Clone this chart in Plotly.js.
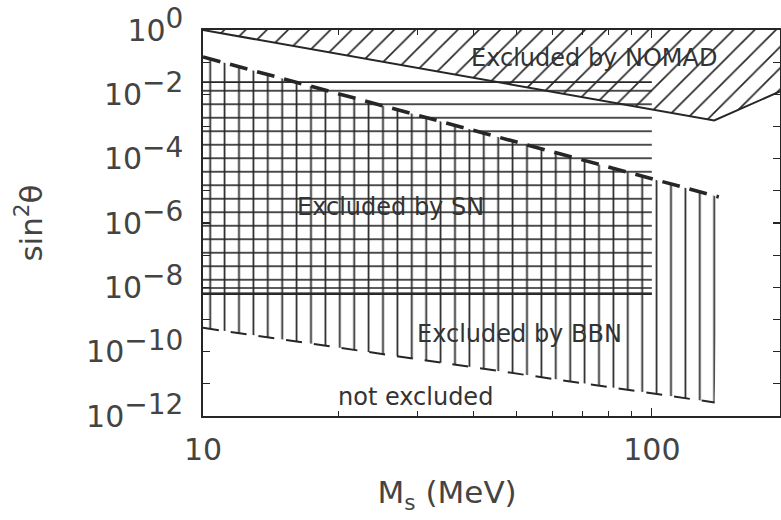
<!DOCTYPE html>
<html><head><meta charset="utf-8">
<script src="https://cdn.plot.ly/plotly-3.0.1.min.js"></script>
<style>html,body{margin:0;padding:0;background:#fff}#chart{width:781px;height:520px}</style>
</head><body><div id="chart"></div>
<script>
// Region boundaries (M_s in MeV, sin^2 theta)
const nomadLowerM = [10, 137.7, 193];
const nomadLowerS = [1, 1.55e-3, 1.23e-2];
const snUpperM = [10, 141];
const snUpperS = [1.45e-1, 6.46e-6];
const bbnLowerM = [10, 138];
const bbnLowerS = [5.5e-10, 2.63e-12];
const snBoxM = [10, 100];
const snBoxBottom = 6.17e-9;
const snBoxBottomInner = 9.5e-9;
const snBoxTop = 2.4e-2;
const xMax = 193;
const xTickVals = [10, 100];
const xTickText = ['10', '100'];
const xMinorVals = [20, 30, 40, 50, 60, 70, 80, 90];
const yMajorExponents = [0, -2, -4, -6, -8, -10, -12];
const yMinorExponents = [-1, -3, -5, -7, -9, -11];

const yTickVals = yMajorExponents.map(e => Math.pow(10, e));
const yTickText = yMajorExponents.map(e =>
  '10<sup><span style="font-size:28px">' + (e === 0 ? '0' : '\u2212' + (-e)) + '</span></sup>');
const yMinorVals = yMinorExponents.map(e => Math.pow(10, e));

const ink = '#262626';
const noLine = {width: 0, color: 'rgba(0,0,0,0)'};

const traces = [
  // BBN excluded: vertical hatching between SN upper line and BBN lower line
  {
    x: snUpperM.concat(bbnLowerM.slice().reverse()),
    y: snUpperS.concat(bbnLowerS.slice().reverse()),
    mode: 'lines', fill: 'toself', line: noLine, fillcolor: 'rgba(0,0,0,0)',
    fillpattern: {shape: '|', size: 14.4, solidity: 0.12, fgcolor: ink, bgcolor: 'rgba(0,0,0,0)'},
    hoverinfo: 'skip'
  },
  // SN excluded: horizontal hatching
  {
    x: [snBoxM[0], snBoxM[1], snBoxM[1], snBoxM[0]],
    y: [snBoxBottom, snBoxBottom, snBoxTop, snBoxTop],
    mode: 'lines', fill: 'toself', line: noLine, fillcolor: 'rgba(0,0,0,0)',
    fillpattern: {shape: '-', size: 13.5, solidity: 0.12, fgcolor: ink, bgcolor: 'rgba(0,0,0,0)'},
    hoverinfo: 'skip'
  },
  // NOMAD excluded: diagonal hatching
  {
    x: nomadLowerM.concat([xMax, nomadLowerM[0]]),
    y: nomadLowerS.concat([1, 1]),
    mode: 'lines', fill: 'toself', line: noLine, fillcolor: 'rgba(0,0,0,0)',
    fillpattern: {shape: '/', size: 15, solidity: 0.11, fgcolor: ink, bgcolor: 'rgba(0,0,0,0)'},
    hoverinfo: 'skip'
  },
  // boundaries
  {x: nomadLowerM, y: nomadLowerS, mode: 'lines', line: {color: ink, width: 2}, hoverinfo: 'skip'},
  {x: snUpperM, y: snUpperS, mode: 'lines', line: {color: ink, width: 3.6, dash: '18px,10px'}, hoverinfo: 'skip'},
  {x: bbnLowerM, y: bbnLowerS, mode: 'lines', line: {color: ink, width: 2, dash: '16px,12px'}, hoverinfo: 'skip'},
  {x: snBoxM, y: [snBoxBottom, snBoxBottom], mode: 'lines', line: {color: ink, width: 1.7}, hoverinfo: 'skip'},
  {x: snBoxM, y: [snBoxBottomInner, snBoxBottomInner], mode: 'lines', line: {color: ink, width: 1.5}, hoverinfo: 'skip'},
  {x: snBoxM, y: [snBoxTop, snBoxTop], mode: 'lines', line: {color: ink, width: 1.6}, hoverinfo: 'skip'}
];

const labelFont = {family: 'DejaVu Sans, sans-serif', size: 24, color: '#333'};

const layout = {
  width: 781, height: 520,
  margin: {l: 203, r: 1, t: 30, b: 104},
  paper_bgcolor: '#fff', plot_bgcolor: '#fff',
  showlegend: false,
  font: {family: 'DejaVu Sans, sans-serif', color: '#444'},
  xaxis: {
    type: 'log', range: [1, Math.log10(xMax)],
    tickmode: 'array', tickvals: xTickVals, ticktext: xTickText,
    ticks: 'inside', ticklen: 8, tickwidth: 1.2, tickcolor: ink,
    minor: {tickmode: 'array', tickvals: xMinorVals, ticks: 'inside', ticklen: 5, tickwidth: 1, tickcolor: ink},
    showline: true, mirror: 'ticks', linecolor: ink, linewidth: 1.6,
    showgrid: false, zeroline: false,
    tickfont: {size: 30, color: '#444'}, ticklabelstandoff: 6,
    title: {text: 'M<sub>s</sub>&nbsp;(MeV)&nbsp;&nbsp;&nbsp;&nbsp;&nbsp;&nbsp;&nbsp;&nbsp;&nbsp;', font: {size: 31, color: '#444'}, standoff: 16}
  },
  yaxis: {
    type: 'log', range: [-12, 0],
    tickmode: 'array', tickvals: yTickVals, ticktext: yTickText,
    ticks: 'inside', ticklen: 7, tickwidth: 1.2, tickcolor: ink,
    minor: {tickmode: 'array', tickvals: yMinorVals, ticks: 'inside', ticklen: 7, tickwidth: 1.2, tickcolor: ink},
    showline: true, mirror: 'ticks', linecolor: ink, linewidth: 1.6,
    showgrid: false, zeroline: false,
    tickfont: {size: 30, color: '#444'}, ticklabelstandoff: 12,
    title: {text: 'sin<sup>2</sup>\u03b8', font: {size: 31, color: '#444'}, standoff: 34}
  },
  annotations: [
    {text: 'Excluded by NOMAD', x: 1.871, y: -0.874, xref: 'x', yref: 'y', showarrow: false, font: labelFont},
    {text: 'Excluded by SN', x: 1.418, y: -5.51, xref: 'x', yref: 'y', showarrow: false, font: labelFont},
    {text: 'Excluded by BBN', x: 1.706, y: -9.45, xref: 'x', yref: 'y', showarrow: false, font: labelFont},
    {text: 'not excluded', x: 1.473, y: -11.42, xref: 'x', yref: 'y', showarrow: false, font: labelFont}
  ]
};

Plotly.newPlot('chart', traces, layout, {staticPlot: true, displayModeBar: false});
</script>
</body></html>
